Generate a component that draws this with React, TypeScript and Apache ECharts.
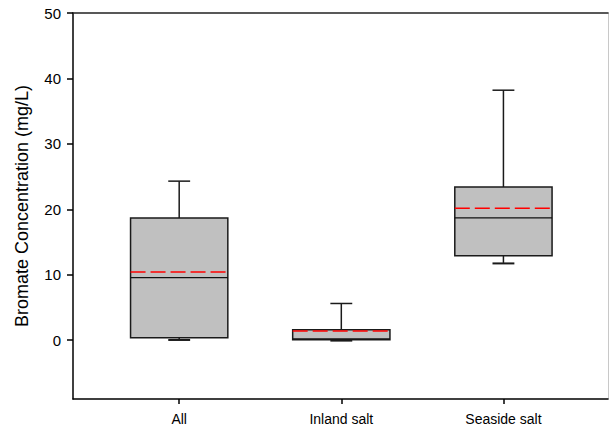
import React, { useEffect, useRef } from "react";
import * as echarts from "echarts";

const categories = ["All", "Inland salt", "Seaside salt"];
const positions = [1, 2, 3];
const whiskerLow = [0.1, 0.0, 11.8];
const q1 = [0.37, 0.05, 12.9];
const median = [9.55, 0.2, 18.67];
const q3 = [18.67, 1.6, 23.4];
const whiskerHigh = [24.3, 5.6, 38.2];
const mean = [10.4, 1.4, 20.15];
const yTicks = [0, 10, 20, 30, 40, 50];

export default function App() {
  const ref = useRef<HTMLDivElement>(null);
  useEffect(() => {
    document.body.style.margin = "0";
    const chart = echarts.init(ref.current!, null, { renderer: "svg" });
    const data = positions.map((p, i) => [p, whiskerLow[i], q1[i], median[i], q3[i], whiskerHigh[i], mean[i]]);
    const font = "Liberation Sans, Arial, sans-serif";
    chart.setOption({
      animation: false,
      grid: { left: 73, right: 1, top: 13, bottom: 34 },
      xAxis: [
        {
          type: "value",
          min: 0.345,
          max: 3.645,
          splitLine: { show: false },
          axisLine: { onZero: false, lineStyle: { color: "#000", width: 1.5 } },
          axisTick: { show: true, customValues: positions, length: 5, lineStyle: { color: "#000", width: 1.5 } },
          axisLabel: {
            customValues: positions,
            formatter: (v: number) => categories[Math.round(v) - 1] ?? "",
            color: "#000",
            fontFamily: font,
            fontSize: 14,
            margin: 13,
          },
        },
        {
          type: "value",
          position: "top",
          min: 0.345,
          max: 3.645,
          splitLine: { show: false },
          axisLine: { show: true, onZero: false, lineStyle: { color: "#222", width: 1.5 } },
          axisTick: { show: false },
          axisLabel: { show: false },
        },
      ],
      yAxis: [
        {
          type: "value",
          min: -9,
          max: 50,
          name: "Bromate Concentration (mg/L)",
          nameLocation: "middle",
          nameGap: 42,
          nameTextStyle: { fontFamily: font, fontSize: 18, color: "#000" },
          splitLine: { show: false },
          axisLine: { show: true, onZero: false, lineStyle: { color: "#000", width: 1.5 } },
          axisTick: { show: true, customValues: yTicks, length: 6, lineStyle: { color: "#000", width: 1.5 } },
          axisLabel: { customValues: yTicks, color: "#000", fontFamily: font, fontSize: 15, margin: 12 },
        },
        {
          type: "value",
          position: "right",
          min: -9,
          max: 50,
          splitLine: { show: false },
          axisLine: { show: true, onZero: false, lineStyle: { color: "#c8c8c8", width: 1 } },
          axisTick: { show: false },
          axisLabel: { show: false },
        },
      ],
      series: [
        {
          type: "custom",
          xAxisIndex: 0,
          yAxisIndex: 0,
          data,
          encode: { x: 0, y: [1, 2, 3, 4, 5, 6] },
          renderItem: (params: any, api: any) => {
            const x = api.value(0);
            const boxW = api.size([0.6, 0])[0];
            const capW = api.size([0.135, 0])[0];
            const pLow = api.coord([x, api.value(1)]);
            const pQ1 = api.coord([x, api.value(2)]);
            const pMed = api.coord([x, api.value(3)]);
            const pQ3 = api.coord([x, api.value(4)]);
            const pHigh = api.coord([x, api.value(5)]);
            const pMean = api.coord([x, api.value(6)]);
            const cx = pQ1[0];
            const l = cx - boxW / 2;
            const r = cx + boxW / 2;
            const stroke = { stroke: "#1a1a1a", lineWidth: 1.5 };
            return {
              type: "group",
              children: [
                { type: "line", shape: { x1: cx, y1: pQ3[1], x2: cx, y2: pHigh[1] }, style: stroke },
                { type: "line", shape: { x1: cx - capW / 2, y1: pHigh[1], x2: cx + capW / 2, y2: pHigh[1] }, style: stroke },
                { type: "line", shape: { x1: cx, y1: pQ1[1], x2: cx, y2: pLow[1] }, style: stroke },
                { type: "line", shape: { x1: cx - capW / 2, y1: pLow[1] + 0.5, x2: cx + capW / 2, y2: pLow[1] + 0.5 }, style: { stroke: "#1a1a1a", lineWidth: 2 } },
                {
                  type: "rect",
                  shape: { x: l, y: pQ3[1], width: boxW, height: pQ1[1] - pQ3[1] },
                  style: { fill: "#c0c0c0", stroke: "#1a1a1a", lineWidth: 1.5 },
                },
                { type: "line", shape: { x1: l, y1: pMed[1], x2: r, y2: pMed[1] }, style: { stroke: "#111", lineWidth: 1.2 } },
                {
                  type: "line",
                  shape: { x1: l, y1: pMean[1], x2: r, y2: pMean[1] },
                  style: { stroke: "#ff0000", lineWidth: 1.5, lineDash: [15, 5] },
                },
              ],
            };
          },
        },
      ],
    });
    return () => chart.dispose();
  }, []);
  return <div ref={ref} style={{ width: 609, height: 433 }} />;
}
